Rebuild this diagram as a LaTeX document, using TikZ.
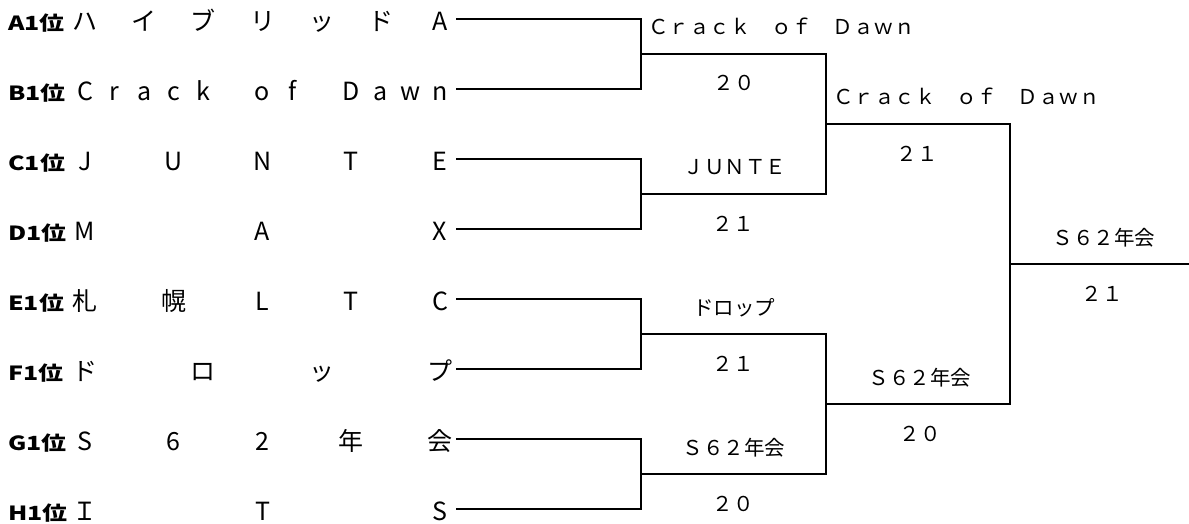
\documentclass[tikz,border=0pt]{standalone}
\usepackage{fontspec}
\usepackage{graphicx}
\setmainfont{Noto Sans CJK JP}
\newcommand\seedfont{\fontsize{19.5}{22}\selectfont\bfseries}
\newcommand\namefont{\fontsize{25}{28}\selectfont}
\newcommand\labfont{\fontsize{20.5}{24}\selectfont}
\tikzset{
  bl/.style={line width=2.3pt, line join=miter},
  seed/.style={anchor=base west, inner sep=0pt, font=\seedfont},
  namech/.style={anchor=base, inner sep=0pt, font=\namefont},
  labl/.style={anchor=base west, inner sep=0pt, font=\labfont},
  labc/.style={anchor=base, inner sep=0pt, font=\labfont},
}
\newcommand\teamrow[5]{%
  \node[seed] (#1l) at (8,#2+11.5) {\scalebox{1.28}[1]{#3}};
  \foreach \c [count=\i] in {#5} {
    \pgfmathsetmacro\xx{85+(\i-1)*355/(#4-1)}
    \node[namech] (#1c\i) at (\xx,#2+11.5) {\c};
  }
  \coordinate (#1s) at (456,#2);
}
\begin{document}
\begin{tikzpicture}[x=1pt,y=-1pt]
\useasboundingbox (0,0) rectangle (1189,524);
\teamrow{A}{19}{A1位}{7}{ハ,イ,ブ,リ,ッ,ド,A}
\teamrow{B}{89}{B1位}{13}{C,r,a,c,k,{},o,f,{},D,a,w,n}
\teamrow{C}{159}{C1位}{5}{J,U,N,T,E}
\teamrow{D}{229}{D1位}{3}{M,A,X}
\teamrow{E}{299}{E1位}{5}{札,幌,L,T,C}
\teamrow{F}{369}{F1位}{4}{ド,ロ,ッ,プ}
\teamrow{G}{439}{G1位}{5}{S,6,2,年,会}
\teamrow{H}{509}{H1位}{3}{Ｉ,T,S}
% bracket points
\coordinate (r1a) at (641,54);
\coordinate (r1b) at (641,194);
\coordinate (r1c) at (641,334);
\coordinate (r1d) at (641,474);
\coordinate (r2a) at (826,124);
\coordinate (r2b) at (826,404);
\coordinate (fin) at (1010,264);
\coordinate (fend) at (1189,264);
\draw[bl] (As) -| (r1a) |- (Bs);
\draw[bl] (Cs) -| (r1b) |- (Ds);
\draw[bl] (Es) -| (r1c) |- (Fs);
\draw[bl] (Gs) -| (r1d) |- (Hs);
\draw[bl] (r1a) -| (r2a) |- (r1b);
\draw[bl] (r1c) -| (r2b) |- (r1d);
\draw[bl] (r2a) -| (fin) |- (r2b);
\draw[bl] (fin) -- (fend);
% round 1 labels
\node[labl] (w1a) at (648,35) {Ｃｒａｃｋ　ｏｆ　Ｄａｗｎ};
\node[labc] (s1a) at (734,91) {２０};
\node[labc] (w1b) at (735,175) {ＪＵＮＴＥ};
\node[labc] (s1b) at (733,231) {２１};
\node[labc] (w1c) at (734,315) {ドロップ};
\node[labc] (s1c) at (733,371) {２１};
\node[labc] (w1d) at (734,455) {Ｓ６２年会};
\node[labc] (s1d) at (733,511) {２０};
% round 2 labels
\node[labl] (w2a) at (833,105) {Ｃｒａｃｋ　ｏｆ　Ｄａｗｎ};
\node[labc] (s2a) at (917,161) {２１};
\node[labc] (w2b) at (920,385) {Ｓ６２年会};
\node[labc] (s2b) at (920,441) {２０};
% final
\node[labc] (wf) at (1104,245) {Ｓ６２年会};
\node[labc] (sf) at (1102,301) {２１};
\end{tikzpicture}
\end{document}
